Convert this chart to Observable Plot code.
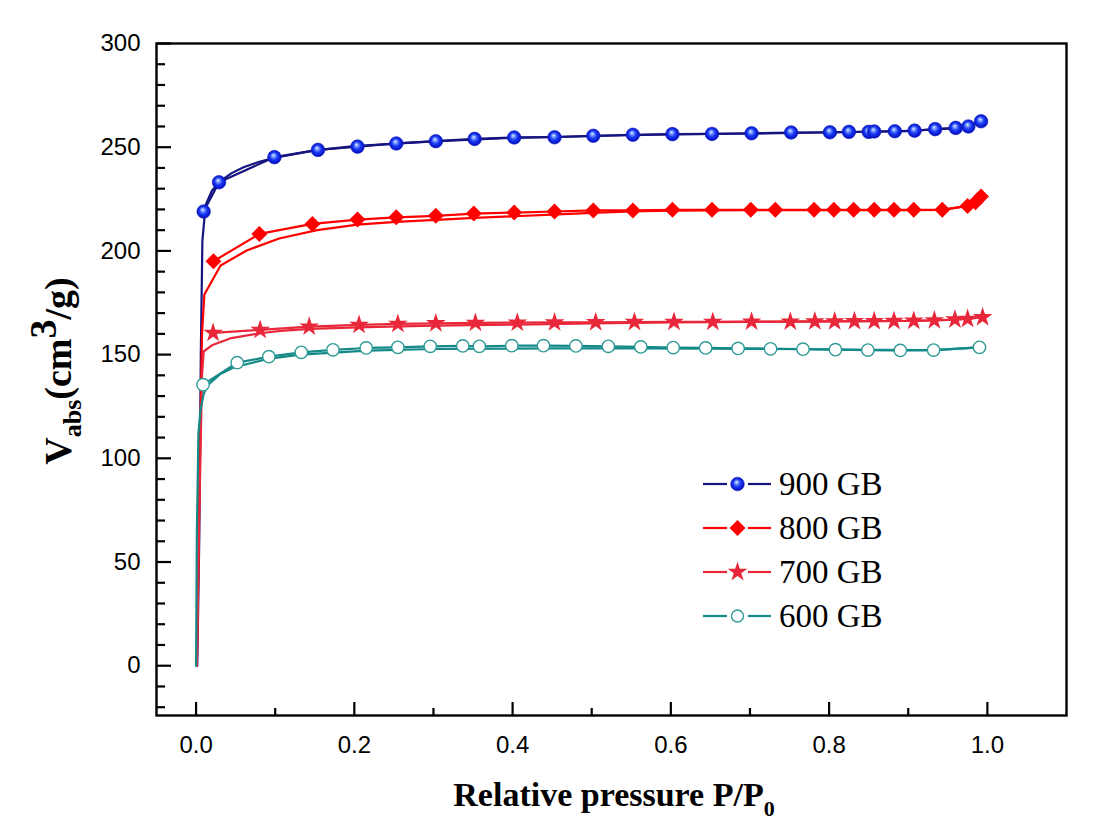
<!DOCTYPE html>
<html><head><meta charset="utf-8">
<script src="https://cdn.jsdelivr.net/npm/d3@7"></script>
<script src="https://cdn.jsdelivr.net/npm/@observablehq/plot@0.6"></script>
<style>
body{margin:0;background:#fff}
#chart{position:relative;width:1112px;height:832px}
</style>
</head><body><div id="chart"></div>
<script>
// ---- data ----
const series = ["900 GB", "800 GB", "700 GB", "600 GB"];

// 900 GB: points with markers
const p900 = [0.0096,0.029,0.099,0.154,0.204,0.253,0.303,0.352,0.402,0.453,0.502,0.552,0.602,0.652,0.702,0.752,0.801,0.825,0.850,0.857,0.883,0.908,0.934,0.960,0.976,0.992];
const v900 = [219.0,233.1,245.2,248.7,250.3,251.8,252.9,254.0,254.7,254.8,255.5,256.0,256.3,256.4,256.7,257.1,257.2,257.4,257.4,257.6,257.7,258.0,258.7,259.3,260.0,262.5];
// 900 GB: plain curve
const p900c = [0.0015,0.004,0.006,0.008,0.012,0.02,0.03,0.045,0.06,0.08,0.1,0.15,0.2,0.3,0.4,0.5,0.6,0.7,0.8,0.9,0.95,0.975,0.992];
const v900c = [0,60,150,205,222,229,233.5,237.5,240.3,243,245,248.5,250.5,252.8,254.5,255.4,256.2,256.6,257.1,257.8,259,260,262.5];

// 800 GB
const p800 = [0.022,0.080,0.147,0.204,0.253,0.303,0.351,0.402,0.453,0.502,0.552,0.602,0.652,0.701,0.732,0.781,0.806,0.831,0.857,0.882,0.907,0.943,0.975,0.985,0.992];
const v800 = [195.0,208.2,213.0,215.1,216.2,216.9,218.0,218.5,219.0,219.5,219.5,219.8,219.8,219.8,219.8,219.8,219.8,219.8,219.8,219.8,219.8,219.8,221.7,223.5,226.2];
const p800c = [0.001,0.004,0.0075,0.0105,0.031,0.064,0.105,0.153,0.204,0.253,0.303,0.352,0.402,0.45,0.5,0.55,0.6,0.7,0.8,0.9,0.943,0.975,0.992];
const v800c = [0,80,160,179,193,200.2,206,210,212.7,214,215,215.9,216.7,217.5,218.3,219,219.4,219.7,219.7,219.7,219.8,221.7,226.2];

// 700 GB
const p700 = [0.0215,0.081,0.143,0.206,0.255,0.303,0.353,0.406,0.453,0.505,0.554,0.604,0.653,0.702,0.751,0.782,0.807,0.832,0.857,0.882,0.907,0.933,0.959,0.975,0.994];
const v700 = [160.5,161.9,163.5,164.3,164.8,165.1,165.3,165.4,165.5,165.6,165.7,165.8,165.8,165.9,165.9,166.0,166.0,166.1,166.1,166.2,166.3,166.5,166.9,167.2,168.0];
const p700c = [0.001,0.004,0.0075,0.0096,0.02,0.043,0.081,0.107,0.144,0.216,0.3,0.406,0.5,0.6,0.7,0.8,0.9,0.959,0.994];
const v700c = [0,70,140,151.5,154.5,157.8,160.3,161.4,162.4,163.3,164.0,164.5,165.0,165.5,165.8,166.0,166.2,166.8,168.0];

// 600 GB
const p600 = [0.0088,0.052,0.092,0.133,0.173,0.215,0.255,0.296,0.337,0.358,0.399,0.439,0.48,0.521,0.562,0.603,0.644,0.685,0.726,0.767,0.808,0.849,0.89,0.932,0.99];
const v600 = [135.5,146.1,149.0,151.1,152.3,153.2,153.5,154.0,154.2,154.0,154.3,154.3,154.2,154.0,153.7,153.4,153.2,153.0,152.8,152.6,152.4,152.2,152.0,152.2,153.5];
const p600c = [0,0.001,0.003,0.0055,0.0096,0.014,0.03,0.048,0.09,0.132,0.216,0.3,0.448,0.55,0.65,0.75,0.85,0.932,0.99];
const v600c = [0,64,112,123,131,135,140.5,143.9,147.9,150,151.9,152.7,153.0,153.0,152.9,152.7,152.3,152.2,153.5];

// ticks
const xMajor = [0,0.2,0.4,0.6,0.8,1.0];
const xMinor = [0.1,0.3,0.5,0.7,0.9];
const yMajor = [0,50,100,150,200,250,300];
const yMinor = [-20,-10,10,20,30,40,60,70,80,90,110,120,130,140,160,170,180,190,210,220,230,240,260,270,280,290];

// ---- styling ----
const colors = {"900 GB":"#15157f","800 GB":"#ff0000","700 GB":"#e8283a","600 GB":"#138a87"};
const W = 1112, H = 832, mL = 156, mT = 43, mR = 46, mB = 117;
const plotW = W - mL - mR, plotH = H - mT - mB;

const rows = (p, v, s) => p.map((x, i) => ({p: x, v: v[i], s}));
const m900 = rows(p900, v900, series[0]), c900 = rows(p900c, v900c, series[0]);
const m800 = rows(p800, v800, series[1]), c800 = rows(p800c, v800c, series[1]);
const m700 = rows(p700, v700, series[2]), c700 = rows(p700c, v700c, series[2]);
const m600 = rows(p600, v600, series[3]), c600 = rows(p600c, v600c, series[3]);

const lw = 2.2;
const svg = Plot.plot({
  width: W, height: H,
  marginLeft: mL, marginTop: mT, marginRight: mR, marginBottom: mB,
  style: {fontFamily: "'Liberation Sans', Arial, sans-serif", fontSize: "24px", background: "white", color: "black"},
  x: {domain: [-0.05, 1.1], label: null},
  y: {domain: [-24, 300], label: null},
  marks: [
    Plot.line(c900, {x: "p", y: "v", stroke: colors["900 GB"], strokeWidth: lw}),
    Plot.line(m900, {x: "p", y: "v", stroke: colors["900 GB"], strokeWidth: lw}),
    Plot.line(c800, {x: "p", y: "v", stroke: colors["800 GB"], strokeWidth: lw}),
    Plot.line(m800, {x: "p", y: "v", stroke: colors["800 GB"], strokeWidth: lw}),
    Plot.line(c700, {x: "p", y: "v", stroke: colors["700 GB"], strokeWidth: lw}),
    Plot.line(m700, {x: "p", y: "v", stroke: colors["700 GB"], strokeWidth: lw}),
    Plot.line(c600, {x: "p", y: "v", stroke: colors["600 GB"], strokeWidth: lw}),
    Plot.line(m600, {x: "p", y: "v", stroke: colors["600 GB"], strokeWidth: lw}),
    Plot.dot(m900, {x: "p", y: "v", r: 6.8, fill: "url(#ball)", stroke: "#1020c0", strokeWidth: 0.6}),
    Plot.dot(m800, {x: "p", y: "v", symbol: "diamond2", r: 7.2, fill: colors["800 GB"], stroke: "none"}),
    Plot.dot(m700, {x: "p", y: "v", symbol: "star", r: 6.2, fill: colors["700 GB"], stroke: "none"}),
    Plot.dot(m600, {x: "p", y: "v", r: 6.2, fill: "white", stroke: "#2f9a96", strokeWidth: 1.4}),
    // inward ticks
    Plot.ruleY(yMinor, {y: d => d, insetRight: plotW - 9, stroke: "black", strokeWidth: 2.2}),
    Plot.ruleY(yMajor, {y: d => d, insetRight: plotW - 15, stroke: "black", strokeWidth: 2.2}),
    Plot.ruleX(xMinor, {x: d => d, insetTop: plotH - 7, stroke: "black", strokeWidth: 2.2}),
    Plot.ruleX(xMajor, {x: d => d, insetTop: plotH - 13, stroke: "black", strokeWidth: 2.2}),
    Plot.axisY({ticks: yMajor, tickSize: 0, tickPadding: 16, fontSize: 24}),
    Plot.axisX({ticks: xMajor, tickSize: 0, tickPadding: 20, tickFormat: d3.format(".1f"), fontSize: 24}),
    Plot.frame({stroke: "black", strokeWidth: 2.4})
  ]
});

const s = d3.select(svg);
const defs = s.insert("defs", ":first-child");
const g = defs.append("radialGradient").attr("id", "ball").attr("cx", "50%").attr("cy", "50%").attr("r", "55%").attr("fx", "42%").attr("fy", "35%");
g.append("stop").attr("offset", "0%").attr("stop-color", "#dfeeff");
g.append("stop").attr("offset", "22%").attr("stop-color", "#7d9cff");
g.append("stop").attr("offset", "50%").attr("stop-color", "#1a3cf4");
g.append("stop").attr("offset", "100%").attr("stop-color", "#0000b4");

// axis titles
const serif = "'Liberation Serif', 'Times New Roman', serif";
const xt = s.append("text").attr("x", 614).attr("y", 806).attr("text-anchor", "middle")
  .attr("font-family", serif).attr("font-weight", "bold").attr("font-size", 34).attr("fill", "black");
xt.append("tspan").text("Relative pressure P/P");
xt.append("tspan").attr("font-size", 22).attr("dy", 10).text("0");

const yt = s.append("text").attr("transform", "translate(71,371) rotate(-90)").attr("text-anchor", "middle")
  .attr("font-family", serif).attr("font-weight", "bold").attr("font-size", 38).attr("fill", "black");
yt.append("tspan").text("V");
yt.append("tspan").attr("font-size", 26).attr("dy", 10).text("abs");
yt.append("tspan").attr("dy", -10).text("(cm");
yt.append("tspan").attr("dy", -15).text("3");
yt.append("tspan").attr("dy", 15).text("/g)");

// legend
const legend = s.append("g").attr("transform", "translate(703,484)").attr("text-anchor", "start");
const symbols = [d3.symbolCircle, d3.symbolDiamond2, d3.symbolStar, d3.symbolCircle];
const sizes = [Math.PI*6.8*6.8, Math.PI*7.2*7.2, Math.PI*6.2*6.2, Math.PI*6*6];
series.forEach((name, i) => {
  const row = legend.append("g").attr("transform", `translate(0,${i*44})`);
  row.append("line").attr("x1", 0).attr("x2", 24).attr("stroke", colors[name]).attr("stroke-width", lw);
  row.append("line").attr("x1", 45).attr("x2", 68).attr("stroke", colors[name]).attr("stroke-width", lw);
  const sym = row.append("path").attr("transform", "translate(34.5,0)").attr("d", d3.symbol(symbols[i], sizes[i])());
  if (i === 0) sym.attr("fill", "url(#ball)").attr("stroke", "#1020c0").attr("stroke-width", 0.6);
  else if (i === 3) sym.attr("fill", "white").attr("stroke", "#2f9a96").attr("stroke-width", 1.4);
  else sym.attr("fill", colors[name]);
  row.append("text").attr("x", 76).attr("y", 11).attr("text-anchor", "start")
    .attr("font-family", serif).attr("font-size", 33).attr("fill", "black").text(name);
});

document.getElementById("chart").append(svg);
</script>
</body></html>
